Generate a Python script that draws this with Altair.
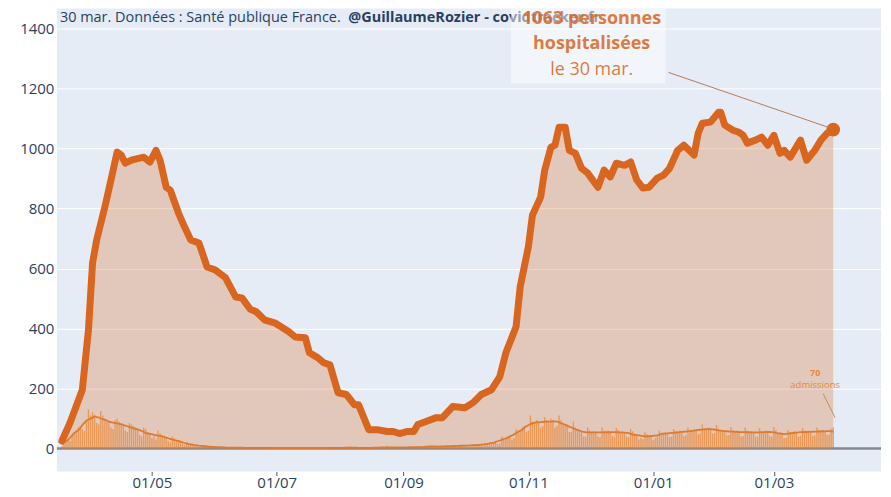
import altair as alt
import pandas as pd

# ---- data ----
hosp_dates = [
    "2020-03-18", "2020-03-22", "2020-03-28", "2020-03-31", "2020-04-02", "2020-04-04",
    "2020-04-08", "2020-04-11", "2020-04-14", "2020-04-16", "2020-04-18", "2020-04-21",
    "2020-04-27", "2020-04-30", "2020-05-03", "2020-05-05", "2020-05-08", "2020-05-10",
    "2020-05-14", "2020-05-17", "2020-05-20", "2020-05-24", "2020-05-28", "2020-06-01",
    "2020-06-06", "2020-06-11", "2020-06-14", "2020-06-18", "2020-06-21", "2020-06-25",
    "2020-06-30", "2020-07-07", "2020-07-10", "2020-07-15", "2020-07-17", "2020-07-21",
    "2020-07-24", "2020-07-27", "2020-07-31", "2020-08-04", "2020-08-08", "2020-08-10",
    "2020-08-15", "2020-08-19", "2020-08-24", "2020-08-27", "2020-08-30", "2020-09-03",
    "2020-09-06", "2020-09-08", "2020-09-12", "2020-09-17", "2020-09-20", "2020-09-25",
    "2020-10-01", "2020-10-05", "2020-10-09", "2020-10-14", "2020-10-18", "2020-10-21",
    "2020-10-26", "2020-10-28", "2020-11-01", "2020-11-03", "2020-11-07", "2020-11-09",
    "2020-11-12", "2020-11-14", "2020-11-16", "2020-11-19", "2020-11-21", "2020-11-24",
    "2020-11-27", "2020-11-30", "2020-12-05", "2020-12-08", "2020-12-11", "2020-12-14",
    "2020-12-18", "2020-12-21", "2020-12-24", "2020-12-27", "2020-12-30", "2021-01-03",
    "2021-01-06", "2021-01-09", "2021-01-13", "2021-01-16", "2021-01-21", "2021-01-23",
    "2021-01-25", "2021-01-29", "2021-02-02", "2021-02-03", "2021-02-05", "2021-02-09",
    "2021-02-12", "2021-02-14", "2021-02-16", "2021-02-20", "2021-02-23", "2021-02-26",
    "2021-03-01", "2021-03-04", "2021-03-06", "2021-03-09", "2021-03-11", "2021-03-14",
    "2021-03-17", "2021-03-21", "2021-03-24", "2021-03-27", "2021-03-30",
]
hosp_values = [
    25, 86, 196, 396, 619, 695,
    805, 895, 988, 978, 951, 961,
    971, 955, 994, 961, 871, 861,
    785, 738, 695, 685, 605, 595,
    569, 505, 502, 465, 456, 429,
    419, 389, 372, 369, 319, 303,
    286, 279, 186, 180, 146, 146,
    63, 63, 57, 57, 50, 57,
    57, 80, 90, 103, 103, 140,
    136, 153, 180, 196, 239, 319,
    406, 539, 672, 778, 838, 928,
    1004, 1011, 1071, 1071, 994, 984,
    934, 918, 871, 928, 905, 951,
    944, 955, 895, 868, 871, 901,
    911, 934, 994, 1011, 978, 1051,
    1084, 1088, 1121, 1121, 1078, 1061,
    1054, 1044, 1018, 1028, 1038, 1011,
    1044, 984, 994, 971, 994, 1028,
    961, 994, 1028, 1051, 1063,
]

# daily admissions, one value per day starting 2020-03-18
adm_start = "2020-03-18"
adm_values = [
    8, 15, 22, 30, 25, 45, 55,
    60, 70, 75, 65, 58, 90, 130,
    110, 120, 105, 85, 80, 125, 110,
    100, 95, 90, 70, 65, 95, 100,
    90, 85, 80, 60, 55, 85, 80,
    75, 70, 65, 45, 40, 70, 65,
    55, 50, 35, 40, 30, 60, 50,
    45, 40, 35, 25, 20, 40, 35,
    30, 25, 22, 15, 12, 22, 18,
    15, 12, 10, 8, 6, 12, 10,
    8, 7, 6, 4, 3, 7, 6,
    5, 4, 4, 2, 2, 4, 3,
    4, 3, 3, 1, 2, 3, 3,
    3, 2, 3, 1, 1, 3, 2,
    2, 3, 2, 1, 1, 2, 2,
    2, 2, 1, 1, 0, 2, 2,
    2, 1, 2, 1, 1, 1, 2,
    1, 2, 2, 0, 1, 3, 2,
    2, 2, 1, 1, 1, 2, 3,
    2, 3, 2, 1, 1, 3, 2,
    2, 8, 2, 1, 2, 3, 2,
    3, 2, 3, 1, 2, 3, 3,
    3, 4, 3, 2, 2, 9, 4,
    4, 3, 4, 2, 2, 5, 4,
    5, 4, 5, 3, 3, 6, 5,
    6, 5, 6, 3, 4, 12, 7,
    7, 8, 7, 4, 5, 9, 8,
    9, 8, 10, 5, 6, 11, 10,
    10, 12, 11, 6, 7, 14, 12,
    14, 15, 13, 8, 10, 18, 16,
    20, 22, 25, 15, 18, 40, 30,
    35, 40, 45, 30, 35, 65, 55,
    60, 70, 75, 55, 60, 110, 90,
    85, 95, 90, 70, 75, 105, 95,
    90, 100, 95, 70, 75, 110, 95,
    85, 80, 75, 55, 55, 90, 70,
    65, 60, 55, 40, 40, 70, 60,
    55, 58, 55, 40, 38, 70, 60,
    55, 60, 55, 42, 40, 68, 62,
    55, 58, 52, 40, 38, 65, 58,
    50, 45, 30, 35, 32, 55, 48,
    45, 42, 28, 35, 40, 60, 52,
    50, 55, 52, 38, 40, 65, 58,
    55, 60, 58, 42, 45, 70, 62,
    60, 65, 62, 48, 50, 80, 68,
    65, 70, 68, 50, 52, 78, 66,
    60, 62, 58, 44, 45, 72, 62,
    55, 60, 56, 40, 42, 70, 60,
    55, 58, 55, 40, 40, 68, 58,
    56, 60, 58, 42, 40, 72, 62,
    50, 52, 48, 35, 36, 62, 55,
    55, 58, 55, 40, 42, 68, 60,
    58, 60, 56, 42, 44, 70, 62,
    60, 62, 58, 45, 46, 66, 70,
]

x_tick_dates = ["2020-05-01", "2020-07-01", "2020-09-01", "2020-11-01", "2021-01-01", "2021-03-01"]
y_ticks = [0, 200, 400, 600, 800, 1000, 1200, 1400]
x_domain = ["2020-03-18T00:00:00", "2021-04-19T22:00:00"]
y_domain = [-76.5, 1466.5]

title_regular = "30 mar. Données : Santé publique France. "
title_bold = "@GuillaumeRozier - covidtracker.fr"
last_date_label = "le 30 mar."

# ---- tables ----
hosp = pd.DataFrame({"date": hosp_dates, "hosp": hosp_values})
adm = pd.DataFrame({
    "date": pd.date_range(adm_start, periods=len(adm_values), freq="D").strftime("%Y-%m-%d"),
    "adm": adm_values,
})
last = pd.DataFrame({"date": [hosp_dates[-1]], "hosp": [hosp_values[-1]], "adm": [adm_values[-1]]})


def ms(s):
    return int(pd.Timestamp(s, tz="UTC").value // 10**6)


ORANGE = "#d9661f"
ORANGE_L = "#e8893a"
TXT = "#2a3f5f"
FONT = "Open Sans"

xscale = alt.Scale(type="utc", domain=[ms(d) for d in x_domain])
yscale = alt.Scale(domain=y_domain, nice=False, zero=False)

xaxis = alt.Axis(
    values=[ms(d) for d in x_tick_dates],
    labelExpr="utcFormat(datum.value, '%d/%m')",
    title=None, grid=False, domain=False, ticks=True, tickSize=4,
    tickColor="#555", labelFontSize=15, labelColor=TXT, labelFont=FONT,
    labelPadding=0,
)
yaxis = alt.Axis(
    values=y_ticks, format="d", title=None, grid=True, gridColor="white", gridWidth=1,
    domain=False, ticks=False, labelFontSize=15, labelColor=TXT, labelFont=FONT,
    labelPadding=3, minExtent=49, maxExtent=49,
)

X = alt.X("date:T", scale=xscale, axis=xaxis)


def Y(field):
    return alt.Y(field, scale=yscale, axis=yaxis)


zero = alt.Chart(last).mark_rule(color="#7f8893", strokeWidth=2.5).encode(
    y=alt.datum(0, scale=yscale, axis=yaxis),
)

area = alt.Chart(hosp).mark_area(color=ORANGE, opacity=0.27).encode(
    x=X, y=Y("hosp:Q"), y2=alt.datum(0),
)

bars = alt.Chart(adm).mark_bar(color=ORANGE_L, opacity=0.75, width=1.4).encode(
    x=X, y=Y("adm:Q"), y2=alt.datum(0),
)

roll = alt.Chart(adm).transform_window(
    rolling="mean(adm)", frame=[-3, 3], sort=[alt.SortField("date")]
).mark_line(color="#de7a30", strokeWidth=1.8).encode(
    x=X, y=Y("rolling:Q"),
)

line = alt.Chart(hosp).mark_line(color=ORANGE, strokeWidth=7, strokeJoin="round", strokeCap="round").encode(
    x=X, y=Y("hosp:Q"),
)

dot = alt.Chart(last).mark_circle(color=ORANGE, opacity=1, size=190).encode(
    x=X, y=Y("hosp:Q"),
)

t1 = alt.Chart(last).mark_text(
    text=title_regular, align="left", baseline="middle", font=FONT, fontSize=14.5, color=TXT,
).encode(x=alt.value(3), y=alt.value(9))
t2 = alt.Chart(last).mark_text(
    text=title_bold, align="left", baseline="middle", font=FONT, fontSize=14.5, fontWeight="bold", color=TXT,
).encode(x=alt.value(292), y=alt.value(9))

box = alt.Chart(last).mark_rect(color="white", opacity=0.5).encode(
    x=alt.value(455), x2=alt.value(610), y=alt.value(0), y2=alt.value(75),
)

a1 = alt.Chart(last).transform_calculate(lbl="datum.hosp + ' personnes'").mark_text(
    align="center", baseline="middle", font=FONT, fontSize=18, fontWeight="bold", color=ORANGE, opacity=0.85,
).encode(text="lbl:N", x=alt.value(536), y=alt.value(10))
a2 = alt.Chart(last).mark_text(
    text="hospitalisées", align="center", baseline="middle", font=FONT, fontSize=18, fontWeight="bold",
    color=ORANGE, opacity=0.85,
).encode(x=alt.value(536), y=alt.value(36))
a3 = alt.Chart(last).mark_text(
    text=last_date_label, align="center", baseline="middle", font=FONT, fontSize=18, color=ORANGE, opacity=0.85,
).encode(x=alt.value(536), y=alt.value(62))

conn = alt.Chart(last).mark_rule(color="#b77b55", strokeWidth=1).encode(
    x=alt.value(613), y=alt.value(64), x2=alt.value(776), y2=alt.value(120),
)

b1 = alt.Chart(last).transform_calculate(lbl="'' + datum.adm").mark_text(
    align="center", baseline="middle", font=FONT, fontSize=9, fontWeight="bold", color=ORANGE_L,
).encode(text="lbl:N", x=alt.value(760), y=alt.value(365))
b2 = alt.Chart(last).mark_text(
    text="admissions", align="center", baseline="middle", font=FONT, fontSize=9.5, color=ORANGE_L,
).encode(x=alt.value(760), y=alt.value(377))
conn2 = alt.Chart(last).mark_rule(color="#c98a5c", strokeWidth=1).encode(
    x=alt.value(768), y=alt.value(386), x2=alt.value(780), y2=alt.value(410),
)

chart = alt.layer(
    zero, area, bars, roll, line, dot, t1, t2, box, a1, a2, a3, conn, b1, b2, conn2
).properties(
    width=826, height=464, background="white",
    padding={"left": 0, "top": 0, "right": 0, "bottom": 0},
).configure_view(
    fill="#e5ecf6", strokeWidth=0,
)

chart.save("out.html", embed_options={"renderer": "svg", "actions": False})
